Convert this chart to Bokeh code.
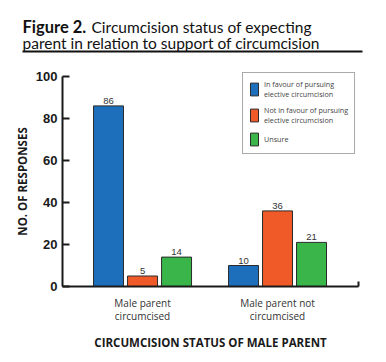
from bokeh.plotting import figure
from bokeh.models import Range1d, FixedTicker, Legend, LegendItem, Label, BoxAnnotation, ColumnDataSource
from bokeh.embed import file_html
from bokeh.resources import INLINE
from bokeh.core.properties import value

# ---- data ----
title_bold = "Figure 2."
title_line1 = "Circumcision status of expecting"
title_line2 = "parent in relation to support of circumcision"
groups = ["Male parent\ncircumcised", "Male parent not\ncircumcised"]
series = ["In favour of pursuing\nelective circumcision",
          "Not in favour of pursuing\nelective circumcision",
          "Unsure"]
in_favour = [86, 10]
not_in_favour = [5, 36]
unsure = [14, 21]
colors = ["#1e6fbb", "#f05a28", "#39b54a"]
y_ticks = [0, 20, 40, 60, 80, 100]

values = [in_favour, not_in_favour, unsure]
group_pos = [1, 2]
bar_w = 0.222
offsets = [-0.252, 0.0, 0.252]

# ---- layout geometry (pixels) ----
W, H = 386, 362
AX_L, AX_R = 62, 358        # x-axis line extent
Y0, Y100 = 286, 76          # pixel rows of y=0 and y=100
x_start, x_end = 0.407, 2.6 # data values at AX_L / AX_R
ppu = (AX_R - AX_L) / (x_end - x_start)
ppy = (Y0 - Y100) / 100.0

def px_x(px):
    return x_start + (px - AX_L) / ppu

def px_y(py):
    return (Y0 - py) / ppy

p = figure(width=W, height=H, output_backend="svg", toolbar_location=None,
           x_range=Range1d(px_x(0), px_x(W)), y_range=Range1d(px_y(H), px_y(0)),
           min_border=0, min_border_left=0, min_border_right=0, min_border_top=0,
           min_border_bottom=0)
p.outline_line_color = None
p.grid.visible = False
p.background_fill_color = "white"
p.border_fill_color = "white"

items = []
for i, (vals, col, name) in enumerate(zip(values, colors, series)):
    xs = [g + offsets[i] for g in group_pos]
    src = ColumnDataSource(dict(x=xs, top=vals, lab=[str(v) for v in vals]))
    r = p.vbar(x="x", top="top", width=bar_w, bottom=0, source=src,
               fill_color=col, line_color="#2b2b2b", line_width=1)
    p.text(x="x", y="top", text="lab", source=src, text_align="center",
           text_baseline="bottom", y_offset=-2, text_font=value("Liberation Sans"),
           text_font_size="9.5px", text_color="#333333")
    items.append(LegendItem(label=name, renderers=[r]))

legend = Legend(items=items, location=(242, H - 154), margin=0, padding=6, spacing=6,
                glyph_width=10, glyph_height=16, label_standoff=5,
                label_text_font="Open Sans", label_text_font_size="7.2px",
                label_text_color="#444444", label_text_line_height=1.85,
                border_line_color="#555555", border_line_width=1,
                background_fill_color="white", background_fill_alpha=1)
p.add_layout(legend, "center")

# y axis (drawn inside the frame at the left end of the x axis)
yax = p.yaxis[0]
yax.fixed_location = x_start
yax.bounds = (0, 100)
yax.ticker = FixedTicker(ticks=y_ticks)
yax.minor_tick_line_color = None
yax.major_tick_in = 7
yax.major_tick_out = 0
yax.major_tick_line_width = 2
yax.axis_line_width = 2
yax.axis_line_color = "#1a1a1a"
yax.major_tick_line_color = "#1a1a1a"
yax.major_label_standoff = 5
yax.major_label_text_font = "Liberation Sans"
yax.major_label_text_font_style = "bold"
yax.major_label_text_font_size = "13px"
yax.major_label_text_color = "#1a1a1a"
yax.axis_label = "NO. OF RESPONSES"
yax.axis_label_text_font = "Open Sans"
yax.axis_label_text_font_style = "bold"
yax.axis_label_text_font_size = "11.5px"
yax.axis_label_text_color = "#1a1a1a"
yax.axis_label_standoff = 3

# x axis (drawn inside the frame at y = 0)
xax = p.xaxis[0]
xax.fixed_location = 0
xax.bounds = (x_start, x_end)
xax.ticker = FixedTicker(ticks=group_pos, minor_ticks=[x_end])
xax.major_label_overrides = {1: groups[0], 2: groups[1]}
xax.major_tick_line_color = None
xax.minor_tick_in = 5
xax.minor_tick_out = 0
xax.minor_tick_line_width = 2
xax.minor_tick_line_color = "#1a1a1a"
xax.axis_line_width = 2
xax.axis_line_color = "#1a1a1a"
xax.major_label_standoff = 3
xax.major_label_text_font = "Open Sans"
xax.major_label_text_font_size = "10px"
xax.major_label_text_line_height = 0.95
xax.major_label_text_color = "#333333"
xax.axis_label = "CIRCUMCISION STATUS OF MALE PARENT"
xax.axis_label_text_font = "Open Sans"
xax.axis_label_text_font_style = "bold"
xax.axis_label_text_font_size = "11.5px"
xax.axis_label_text_color = "#1a1a1a"
xax.axis_label_standoff = 9

# title
for txt, x, y, style, size in [(title_bold, 22, 26, "bold", "16.5px"),
                               (title_line1, 91, 26, "normal", "15.5px"),
                               (title_line2, 22, 42, "normal", "15.5px")]:
    p.add_layout(Label(x=px_x(x), y=px_y(y), text=txt, text_font="Lato",
                       text_font_style=style, text_font_size=size,
                       text_color="#111111", text_baseline="alphabetic"))
p.add_layout(BoxAnnotation(left=px_x(22), right=px_x(362), top=px_y(50), bottom=px_y(52),
                           fill_color="#111111", fill_alpha=1, line_color=None))

open("out.html", "w").write(file_html(p, INLINE))
